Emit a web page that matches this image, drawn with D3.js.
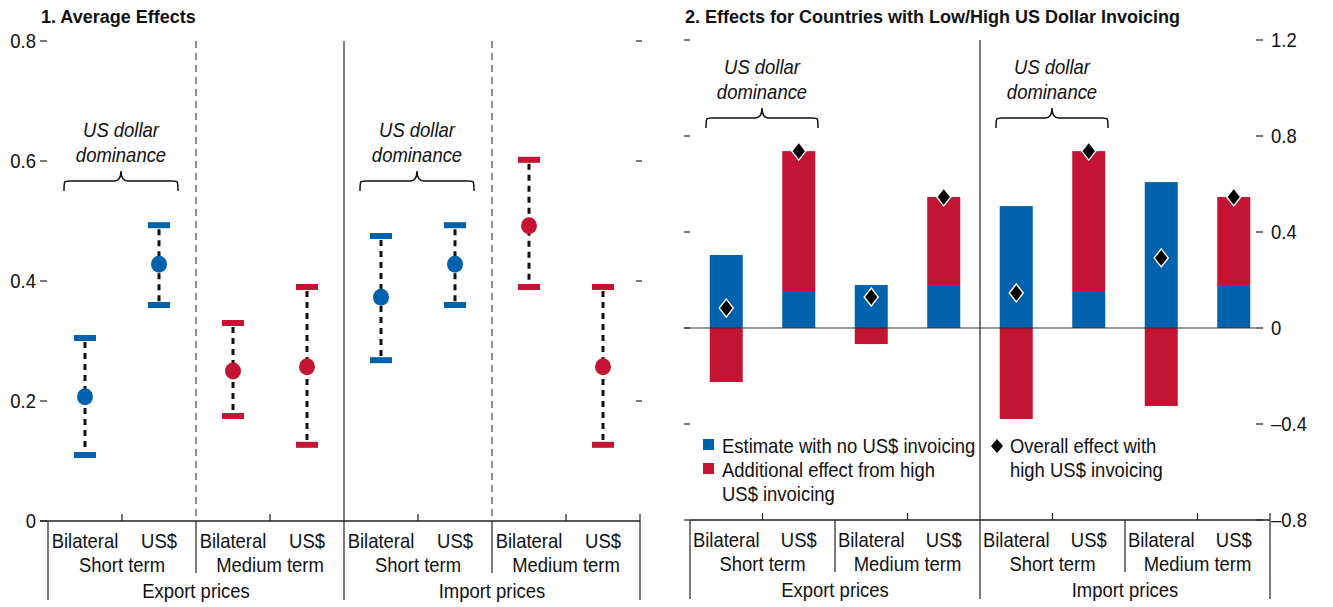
<!DOCTYPE html>
<html>
<head>
<meta charset="utf-8">
<script src="https://cdn.jsdelivr.net/npm/d3@7/dist/d3.min.js"></script>
<style>
  html, body { margin: 0; padding: 0; background: #fff; }
  svg { display: block; }
  text { font-family: "Liberation Sans", Arial, sans-serif; fill: #111; }
</style>
</head>
<body>
<svg id="chart" width="1333" height="607"></svg>
<script>
// ---- Data ----
const categories = ["Bilateral", "US$", "Bilateral", "US$", "Bilateral", "US$", "Bilateral", "US$"];
const horizons = ["Short term", "Medium term", "Short term", "Medium term"];
const priceGroups = ["Export prices", "Import prices"];

// Panel 1: point estimates with confidence bounds
const avgEstimate = [0.207, 0.428, 0.250, 0.257, 0.373, 0.428, 0.492, 0.257];
const avgUpper    = [0.305, 0.493, 0.330, 0.390, 0.475, 0.493, 0.602, 0.390];
const avgLower    = [0.110, 0.360, 0.175, 0.127, 0.268, 0.360, 0.390, 0.127];
const avgColorKey = ["blue", "blue", "red", "red", "blue", "blue", "red", "red"];

// Panel 2: stacked components and overall effect
const noUsdEstimate   = [0.304, 0.154, 0.179, 0.179, 0.508, 0.154, 0.608, 0.179];
const highUsdAddition = [-0.225, 0.583, -0.067, 0.367, -0.379, 0.583, -0.325, 0.367];
const overallEffect   = [0.083, 0.737, 0.129, 0.546, 0.146, 0.737, 0.292, 0.546];

const leftTicks = [0, 0.2, 0.4, 0.6, 0.8];
const rightTicks = [-0.8, -0.4, 0, 0.4, 0.8, 1.2];

const COLORS = { blue: "#0061ad", red: "#c41433" };
const FONT_SIZE = 20.5;
const SQUEEZE = 0.9;   // horizontal compression for a condensed look

const svg = d3.select("#chart");
const fmt = v => v === 0 ? "0" : (v < 0 ? "\u2013" + Math.abs(v).toFixed(1) : v.toFixed(1));

// Condensed text label: positioned group, horizontally squeezed
function label(g, x, y, str, anchor = "middle", opts = {}) {
  const t = g.append("g").attr("transform", `translate(${x},${y}) scale(${opts.sx || SQUEEZE},1)`)
    .append("text").attr("x", 0).attr("y", 0).attr("text-anchor", anchor)
    .attr("font-size", opts.size || FONT_SIZE).text(str);
  if (opts.italic) t.attr("font-style", "italic");
  if (opts.bold) t.attr("font-weight", "bold");
  return t;
}

// Curly brace path spanning x0..x1 with its tip pointing up
function bracePath(x0, x1, yTop) {
  const xm = (x0 + x1) / 2, yl = yTop + 10, ye = yTop + 20;
  return `M${x0},${ye} C${x0},${yl - 1} ${x0},${yl} ${x0 + 8},${yl}` +
         ` L${xm - 7},${yl} C${xm - 2},${yl} ${xm},${yl - 3} ${xm},${yTop}` +
         ` C${xm},${yl - 3} ${xm + 2},${yl} ${xm + 7},${yl}` +
         ` L${x1 - 8},${yl} C${x1},${yl} ${x1},${yl - 1} ${x1},${ye}`;
}

const diamondPath = (hw, hh) => `M0,${-hh}L${hw},0L0,${hh}L${-hw},0Z`;

// Shared category axis beneath a panel
function drawCategoryAxis(g, x, yAxis) {
  const [r0, r1] = x.range();
  const bw = x.bandwidth();
  g.append("line").attr("x1", r0).attr("x2", r1).attr("y1", yAxis).attr("y2", yAxis)
    .attr("stroke", "#222").attr("stroke-width", 1.5);
  categories.forEach((c, i) => {
    label(g, x(i) + bw / 2, yAxis + 27, c);
    // small inner ticks between Bilateral and US$
    if (i % 2 === 1) {
      g.append("line").attr("x1", x(i)).attr("x2", x(i)).attr("y1", yAxis - 7).attr("y2", yAxis)
        .attr("stroke", "#222").attr("stroke-width", 1.2);
    }
  });
  horizons.forEach((h, j) => label(g, x(j * 2) + bw, yAxis + 51, h));
  priceGroups.forEach((p, k) => label(g, x(k * 4) + bw * 2, yAxis + 77, p));
  // separators below axis
  for (let i = 0; i <= 8; i += 2) {
    const xx = i === 8 ? r1 : x(i);
    const long = i % 4 === 0;
    g.append("line").attr("x1", xx).attr("x2", xx).attr("y1", yAxis - (i === 8 ? 7 : 0))
      .attr("y2", yAxis + (long ? 79 : 52))
      .attr("stroke", "#222").attr("stroke-width", 1.2);
  }
}

// ================= Panel 1 =================
const g1 = svg.append("g");
const x1 = d3.scaleBand().domain(d3.range(8)).range([48, 640]).padding(0);
const y1 = d3.scaleLinear().domain([0, 0.8]).range([521, 41]);

g1.append("text").attr("x", 41).attr("y", 23).attr("font-size", 18).attr("font-weight", "bold")
  .text("1. Average Effects");

// left axis tick labels and marks
leftTicks.forEach(t => {
  label(g1, 36, y1(t) + 7, fmt(t), "end");
  g1.append("line").attr("x1", 40).attr("x2", 47).attr("y1", y1(t)).attr("y2", y1(t))
    .attr("stroke", "#222").attr("stroke-width", 1.2);
  if (t > 0) {
    g1.append("line").attr("x1", 636).attr("x2", 642).attr("y1", y1(t)).attr("y2", y1(t))
      .attr("stroke", "#222").attr("stroke-width", 1.2);
  }
});

// vertical separators inside plot
[2, 6].forEach(i => {
  g1.append("line").attr("x1", x1(i)).attr("x2", x1(i)).attr("y1", y1(0.8)).attr("y2", y1(0))
    .attr("stroke", "#444").attr("stroke-width", 1.2).attr("stroke-dasharray", "7,5");
});
g1.append("line").attr("x1", x1(4)).attr("x2", x1(4)).attr("y1", y1(0.8)).attr("y2", y1(0))
  .attr("stroke", "#555").attr("stroke-width", 1.5);

drawCategoryAxis(g1, x1, y1(0));
g1.append("line").attr("x1", 40).attr("x2", 48).attr("y1", y1(0)).attr("y2", y1(0))
  .attr("stroke", "#222").attr("stroke-width", 1.5);

// error bars
const cx1 = i => x1(i) + x1.bandwidth() / 2;
const eb = g1.selectAll(".eb").data(d3.range(8)).join("g").attr("class", "eb");
eb.append("line")
  .attr("x1", cx1).attr("x2", cx1)
  .attr("y1", i => y1(avgUpper[i])).attr("y2", i => y1(avgLower[i]))
  .attr("stroke", "#111").attr("stroke-width", 3).attr("stroke-dasharray", "6,5")
  .attr("stroke-dashoffset", -4);
eb.append("rect")
  .attr("x", i => cx1(i) - 11).attr("width", 22)
  .attr("y", i => y1(avgUpper[i]) - 3).attr("height", 6)
  .attr("fill", i => COLORS[avgColorKey[i]]);
eb.append("rect")
  .attr("x", i => cx1(i) - 11).attr("width", 22)
  .attr("y", i => y1(avgLower[i]) - 3).attr("height", 6)
  .attr("fill", i => COLORS[avgColorKey[i]]);
eb.append("ellipse")
  .attr("cx", cx1).attr("cy", i => y1(avgEstimate[i]))
  .attr("rx", 8).attr("ry", 8.5)
  .attr("fill", i => COLORS[avgColorKey[i]]);

// US dollar dominance annotations
[0, 4].forEach(i => {
  const xa = x1(i) + 16, xb = x1(i + 1) + x1.bandwidth() - 18;
  const xm = (xa + xb) / 2;
  g1.append("path").attr("d", bracePath(xa, xb, 171))
    .attr("fill", "none").attr("stroke", "#111").attr("stroke-width", 1.5);
  label(g1, xm, 137, "US dollar", "middle", { italic: true });
  label(g1, xm, 162, "dominance", "middle", { italic: true });
});

// ================= Panel 2 =================
const g2 = svg.append("g");
const x2 = d3.scaleBand().domain(d3.range(8)).range([690, 1270]).padding(0);
const y2 = d3.scaleLinear().domain([-0.8, 1.2]).range([520, 40]);

g2.append("text").attr("x", 685).attr("y", 23).attr("font-size", 18).attr("font-weight", "bold")
  .text("2. Effects for Countries with Low/High US Dollar Invoicing");

rightTicks.forEach(t => {
  label(g2, 1271, y2(t) + 7, fmt(t), "start");
  g2.append("line").attr("x1", 1256).attr("x2", 1263).attr("y1", y2(t)).attr("y2", y2(t))
    .attr("stroke", "#222").attr("stroke-width", 1.2);
  g2.append("line").attr("x1", 684).attr("x2", 690).attr("y1", y2(t)).attr("y2", y2(t))
    .attr("stroke", "#222").attr("stroke-width", 1.2);
});

// bars: baseline component then additional component stacked
const bw2 = 33;
const cx2 = i => x2(i) + x2.bandwidth() / 2;
const bars = g2.selectAll(".bar").data(d3.range(8)).join("g").attr("class", "bar");
bars.append("rect")
  .attr("x", i => cx2(i) - bw2 / 2).attr("width", bw2)
  .attr("y", i => y2(Math.max(0, noUsdEstimate[i])))
  .attr("height", i => Math.abs(y2(0) - y2(noUsdEstimate[i])))
  .attr("fill", COLORS.blue);
bars.append("rect")
  .attr("x", i => cx2(i) - bw2 / 2).attr("width", bw2)
  .attr("y", i => highUsdAddition[i] >= 0 ? y2(noUsdEstimate[i] + highUsdAddition[i]) : y2(0))
  .attr("height", i => Math.abs(y2(0) - y2(highUsdAddition[i])))
  .attr("fill", COLORS.red);

// zero line and separators
g2.append("line").attr("x1", 684).attr("x2", 1256).attr("y1", y2(0)).attr("y2", y2(0))
  .attr("stroke", "#333").attr("stroke-width", 1.2);
g2.append("line").attr("x1", x2(4)).attr("x2", x2(4)).attr("y1", y2(1.2)).attr("y2", y2(-0.8))
  .attr("stroke", "#222").attr("stroke-width", 1.2);

bars.append("path")
  .attr("d", diamondPath(7, 9))
  .attr("transform", i => `translate(${cx2(i)},${y2(overallEffect[i])})`)
  .attr("fill", "#000").attr("stroke", "#fff").attr("stroke-width", 1.4);

drawCategoryAxis(g2, x2, y2(-0.8));

[0, 4].forEach(i => {
  const xa = x2(i) + 16, xb = x2(i + 1) + x2.bandwidth() - 17;
  const xm = (xa + xb) / 2;
  g2.append("path").attr("d", bracePath(xa, xb, 108))
    .attr("fill", "none").attr("stroke", "#111").attr("stroke-width", 1.5);
  label(g2, xm, 74, "US dollar", "middle", { italic: true });
  label(g2, xm, 99, "dominance", "middle", { italic: true });
});

// legend
const lg = g2.append("g");
lg.append("rect").attr("x", 703).attr("y", 439).attr("width", 11).attr("height", 11).attr("fill", COLORS.blue);
label(lg, 722, 453, "Estimate with no US$ invoicing", "start");
lg.append("rect").attr("x", 703).attr("y", 463).attr("width", 11).attr("height", 11).attr("fill", COLORS.red);
label(lg, 722, 477, "Additional effect from high", "start");
label(lg, 722, 501, "US$ invoicing", "start");
lg.append("path").attr("d", diamondPath(6, 7))
  .attr("transform", "translate(997,446)").attr("fill", "#000");
label(lg, 1010, 453, "Overall effect with", "start");
label(lg, 1010, 477, "high US$ invoicing", "start");
</script>
</body>
</html>
